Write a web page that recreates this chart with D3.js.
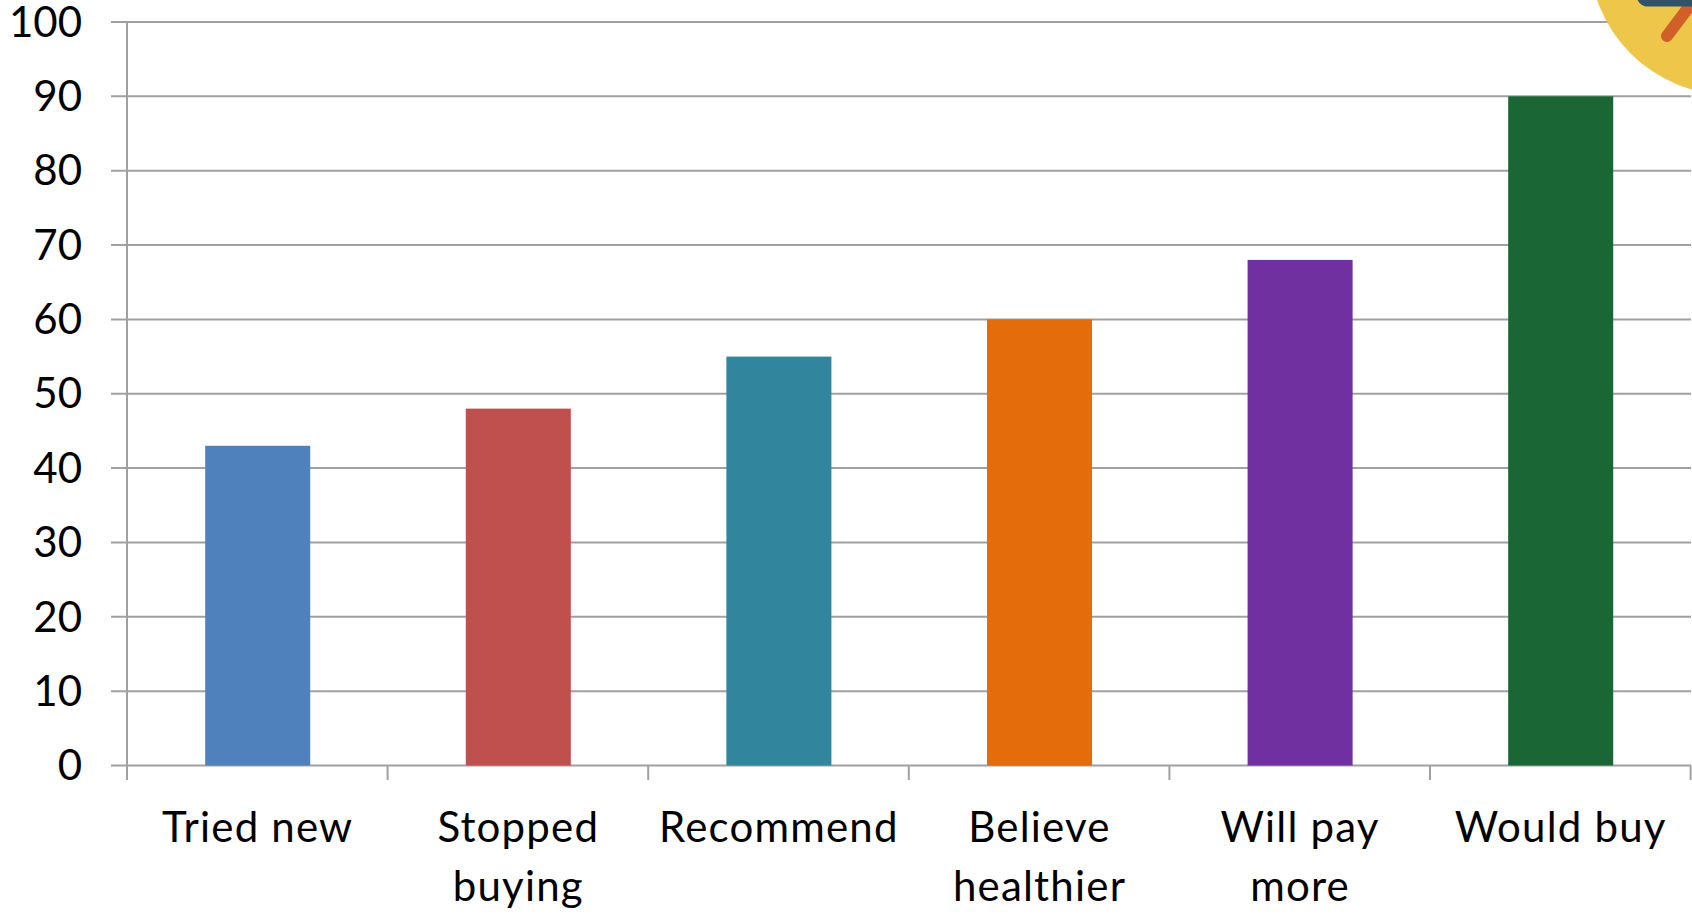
<!DOCTYPE html>
<html><head><meta charset="utf-8">
<script src="https://cdn.jsdelivr.net/npm/d3@7"></script>
<style>html,body{margin:0;padding:0;background:#fff;overflow:hidden}
text{font-family:Lato,"Open Sans",sans-serif;fill:#000}</style></head>
<body><script>
const categories=[["Tried new"],["Stopped","buying"],["Recommend"],["Believe","healthier"],["Will pay","more"],["Would buy"]];
const values=[43,48,55,60,68,90];
const barColors=["#4f81bd","#c0504d","#31859c","#e46c0a","#7030a0","#1a6634"];
const yTicks=[0,10,20,30,40,50,60,70,80,90,100];
const W=1692,H=915;
const svg=d3.select("body").append("svg").attr("width",W).attr("height",H).style("display","block");
const x=d3.scaleBand().domain(d3.range(categories.length)).range([127.4,1691]).paddingInner(0.597).paddingOuter(0.2985);
const step=x.step();
const y=d3.scaleLinear().domain([0,100]).range([765.5,22]);
const grey="#a0a0a0";
svg.append("g").selectAll("line").data(yTicks).join("line")
 .attr("x1",111).attr("x2",1691).attr("y1",d=>y(d)).attr("y2",d=>y(d))
 .attr("stroke",grey).attr("stroke-width",2);
svg.append("line").attr("x1",127).attr("x2",127).attr("y1",y(100)).attr("y2",780).attr("stroke",grey).attr("stroke-width",2);
svg.append("g").selectAll("line").data(d3.range(1,7)).join("line")
 .attr("x1",i=>127+i*step).attr("x2",i=>127+i*step).attr("y1",y(0)).attr("y2",780)
 .attr("stroke",grey).attr("stroke-width",2);
svg.append("g").selectAll("rect").data(values).join("rect")
 .attr("x",(d,i)=>x(i)).attr("width",x.bandwidth())
 .attr("y",d=>y(d)).attr("height",d=>y(0)-y(d))
 .attr("fill",(d,i)=>barColors[i]);
svg.append("g").selectAll("text").data(yTicks).join("text")
 .attr("x",82).attr("y",d=>y(d)).attr("dy","0.35em").attr("text-anchor","end")
 .attr("font-size",42).text(d=>d);
const xl=svg.append("g").selectAll("text").data(categories).join("text")
 .attr("text-anchor","middle").attr("font-size",42).attr("letter-spacing",1.2)
 .attr("transform",(d,i)=>`translate(${x(i)+x.bandwidth()/2},842)`);
xl.selectAll("tspan").data(d=>d).join("tspan").attr("x",0).attr("y",(d,i)=>i*59).text(d=>d);
const badge=svg.append("g");
badge.append("circle").attr("cx",1731).attr("cy",-47).attr("r",142).attr("fill","#eec64a");
badge.append("line").attr("x1",1667).attr("y1",36).attr("x2",1700).attr("y2",-8).attr("stroke","#d05f28").attr("stroke-width",12).attr("stroke-linecap","round");
badge.append("rect").attr("x",1640).attr("y",-20).attr("width",70).attr("height",23).attr("rx",8).attr("fill","#fff").attr("stroke","#2f5368").attr("stroke-width",7);
</script></body></html>
